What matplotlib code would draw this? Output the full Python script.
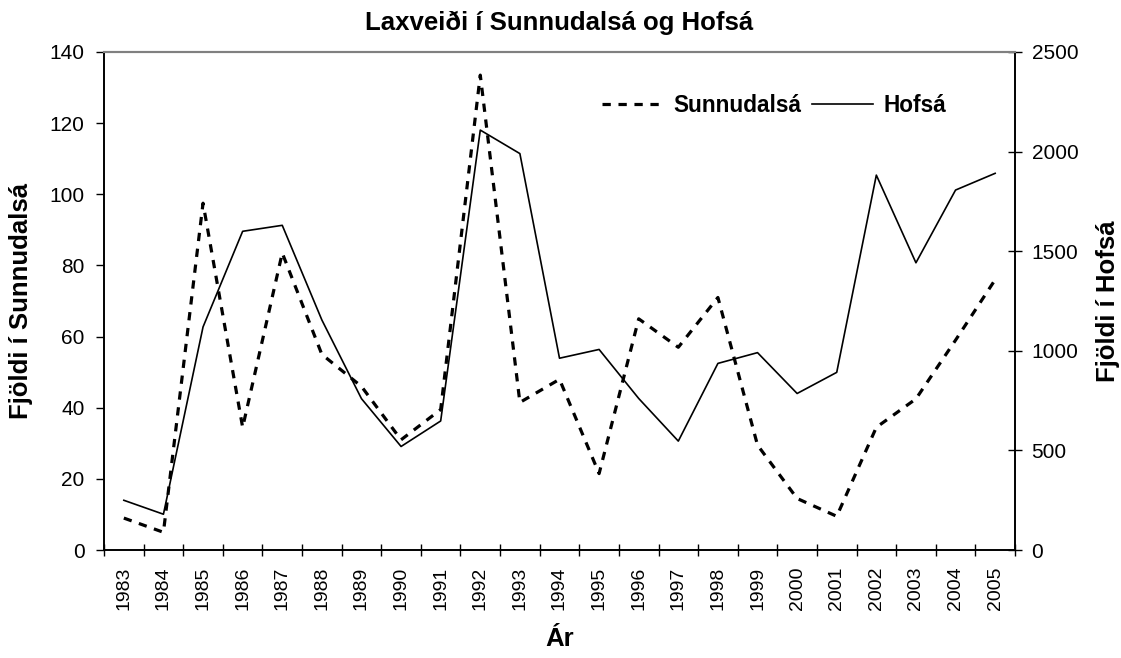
import matplotlib
matplotlib.use("Agg")
import matplotlib.pyplot as plt
import numpy as np

plt.rcParams['font.family'] = ['Liberation Sans', 'DejaVu Sans']

years = [str(y) for y in range(1983, 2006)]
sunnudalsa = [9, 5, 97.5, 34.5, 83.5, 55, 46, 31, 39.5, 133.5, 41.5, 48, 21.5,
              65, 57, 71, 29.5, 14.5, 9.5, 34.5, 42.5, 59, 76]
hofsa = [250, 180, 1120, 1600, 1630, 1155, 760, 520, 648, 2108, 1990, 963, 1007,
         761, 547, 937, 991, 786, 892, 1882, 1442, 1807, 1891]

title = "Laxveiði í Sunnudalsá og Hofsá"
xlabel = "Ár"
ylabel_left = "Fjöldi í Sunnudalsá"
ylabel_right = "Fjöldi í Hofsá"

fig = plt.figure(figsize=(11.21, 6.58), dpi=100)
ax = fig.add_axes([0.0928, 0.164, 0.8126, 0.757])
ax2 = ax.twinx()

x = np.arange(len(years))
l1, = ax.plot(x, sunnudalsa, color='black', lw=2.3, linestyle=(0, (2.6, 2.4)),
              label='Sunnudalsá')
l2, = ax2.plot(x, hofsa, color='black', lw=1.2, label='Hofsá')

ax.set_xlim(-0.5, len(years) - 0.5)
ax.set_ylim(0, 140)
ax2.set_ylim(0, 2500)
ax.set_yticks(np.arange(0, 141, 20))
ax2.set_yticks(np.arange(0, 2501, 500))

ax.set_xticks(np.arange(-0.5, len(years), 1.0))
ax.set_xticklabels([])
ax.set_xticks(x, minor=True)
ax.set_xticklabels(years, minor=True, rotation=90, fontsize=14)
ax.tick_params(axis='x', which='minor', length=0, pad=12)
ax.tick_params(axis='x', which='major', direction='inout', length=9, width=1)
ax.tick_params(axis='y', direction='out', length=6, width=1, labelsize=15, pad=8)
ax2.tick_params(axis='y', direction='inout', length=10, width=1, labelsize=15, pad=7)

for a in (ax, ax2):
    a.spines['top'].set_color('#808080')
    a.spines['top'].set_linewidth(1.5)
    a.spines['left'].set_linewidth(1.2)
    a.spines['right'].set_linewidth(1.2)
    a.spines['bottom'].set_linewidth(1.2)

ax.set_title(title, fontsize=18.5, fontweight='bold', pad=16)
ax.set_xlabel(xlabel, fontsize=18.5, fontweight='bold')
ax.set_ylabel(ylabel_left, fontsize=18.5, fontweight='bold')
ax2.set_ylabel(ylabel_right, fontsize=18.5, fontweight='bold')
ax.xaxis.set_label_coords(0.5, -0.155)
ax.yaxis.set_label_coords(-0.078, 0.5)
ax2.yaxis.set_label_coords(1.089, 0.5)

leg = ax.legend(handles=[l1, l2], loc='center left', bbox_to_anchor=(0.547, 0.893),
                ncol=2, frameon=False, prop={'weight': 'bold', 'size': 16.3},
                handlelength=2.7, handletextpad=0.45, columnspacing=0.45,
                borderaxespad=0, borderpad=0)

fig.savefig('out.png', dpi=100)
